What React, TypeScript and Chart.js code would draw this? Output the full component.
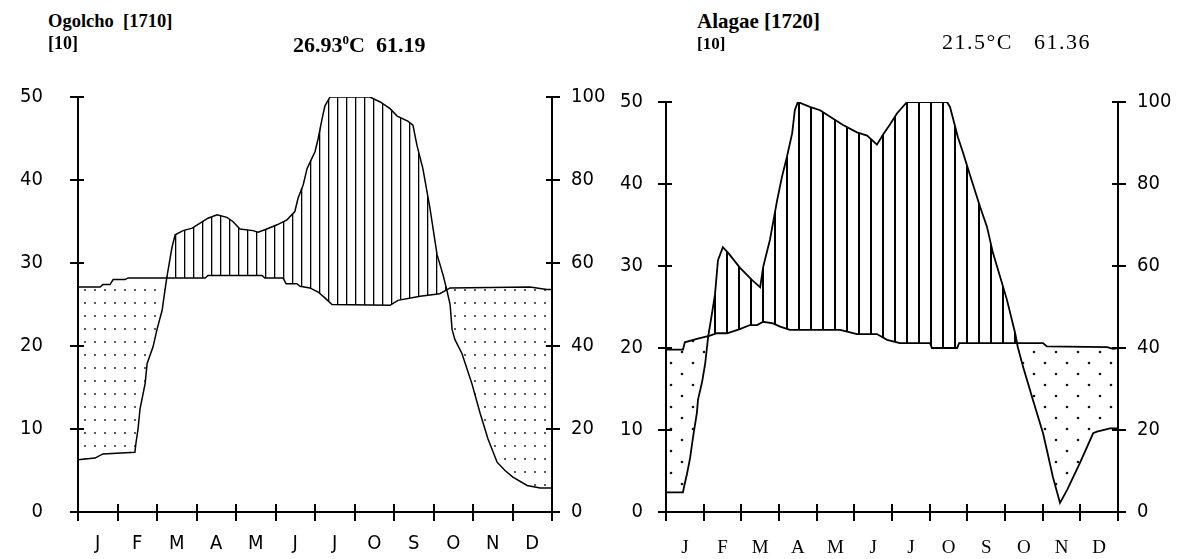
import React, { useEffect, useRef } from "react";
import { Chart, registerables } from "chart.js";

Chart.register(...registerables);

// ---------- data ----------
const MONTHS = ["J", "F", "M", "A", "M", "J", "J", "O", "S", "O", "N", "D"];

// Ogolcho [1710] : temperature (°C) and precipitation (mm), x in months from 1 Jan
const OGOLCHO_TEMP_MONTH = [0, 0.56, 0.63, 0.81, 0.89, 1.19, 1.27, 3.22, 3.29, 4.66, 4.73, 5.19, 5.27, 5.54, 5.62, 5.87, 6.08, 6.25, 6.43, 7.9, 8.1, 8.66, 9.16, 9.42, 11.44, 11.87, 12];
const OGOLCHO_TEMP_C = [27.1, 27.1, 27.4, 27.4, 28.0, 28.0, 28.2, 28.2, 28.5, 28.5, 28.2, 28.2, 27.5, 27.5, 27.2, 27.0, 26.5, 25.8, 25.0, 24.9, 25.5, 26.0, 26.3, 27.0, 27.1, 26.8, 26.8];
const OGOLCHO_PREC_MONTH = [0, 0.43, 0.63, 1.44, 1.47, 1.52, 1.57, 1.7, 1.75, 1.9, 2.0, 2.13, 2.18, 2.25, 2.38, 2.46, 2.66, 2.89, 3.09, 3.29, 3.52, 3.77, 3.92, 4.1, 4.43, 4.56, 4.78, 5.04, 5.29, 5.49, 5.57, 5.7, 5.8, 5.92, 6.0, 6.08, 6.18, 6.25, 6.38, 6.58, 7.39, 7.65, 7.9, 8.08, 8.35, 8.48, 8.58, 8.73, 8.91, 9.09, 9.24, 9.34, 9.42, 9.47, 9.54, 9.72, 9.97, 10.18, 10.38, 10.61, 10.81, 11.01, 11.37, 11.7, 12];
const OGOLCHO_PREC_MM = [12.6, 13, 14, 14.4, 16.8, 20, 24.8, 31, 35.8, 39.8, 44, 48.6, 52, 56.6, 63.8, 66.8, 67.8, 68.4, 69.6, 70.8, 71.6, 71, 70, 68.2, 67.8, 67.4, 68.2, 69.2, 70.4, 72.4, 75.6, 78.8, 82.8, 85.2, 86.8, 90, 94.8, 97.8, 100, 100, 100, 98.8, 97.2, 95.4, 94.2, 93.2, 88.4, 82.8, 73.2, 62, 57.2, 53.4, 50, 44, 41.6, 38.2, 31, 23.8, 17.6, 12, 10, 8.4, 6.4, 5.8, 5.8];

// Alagae [1720]
const ALAGAE_TEMP_MONTH = [0, 0.45, 0.5, 0.82, 1.17, 1.35, 1.62, 1.96, 2.23, 2.42, 2.58, 2.84, 3.03, 3.29, 4.62, 4.81, 5.07, 5.6, 5.87, 6.21, 7.01, 7.06, 7.73, 7.78, 10.01, 10.11, 11.71, 11.87, 12];
const ALAGAE_TEMP_C = [19.8, 19.8, 20.7, 21.1, 21.5, 21.8, 21.8, 22.3, 22.8, 22.8, 23.2, 23.0, 22.6, 22.2, 22.2, 22.0, 21.7, 21.7, 21.0, 20.6, 20.6, 20.0, 20.0, 20.6, 20.6, 20.2, 20.1, 19.9, 20.0];
const ALAGAE_PREC_MONTH = [0, 0.45, 0.5, 0.56, 0.64, 0.72, 0.82, 0.85, 0.96, 1.04, 1.12, 1.22, 1.3, 1.38, 1.51, 1.65, 1.96, 2.28, 2.5, 2.58, 2.76, 2.95, 3.08, 3.21, 3.35, 3.42, 3.5, 3.82, 4.09, 4.43, 4.7, 5.07, 5.34, 5.6, 5.76, 5.95, 6.13, 6.4, 6.53, 7.46, 7.54, 7.75, 7.88, 8.07, 8.34, 8.52, 8.68, 8.87, 9.05, 9.27, 9.34, 9.48, 9.74, 10.01, 10.11, 10.27, 10.46, 10.65, 10.99, 11.34, 11.44, 11.79, 12];
const ALAGAE_PREC_MM = [4.8, 4.8, 7, 9.4, 13.2, 18.4, 24.2, 27.4, 31.8, 36.2, 42.8, 48.4, 53, 61.4, 64.6, 63.2, 59.6, 56.6, 54.8, 59.8, 66.4, 76, 81.8, 86.6, 92.4, 98, 100, 98.8, 98, 96, 94.4, 92.6, 91.8, 89.6, 92, 94.6, 97.2, 100, 100, 100, 98.8, 91.4, 87.8, 82.2, 74.4, 69.6, 63.2, 57.4, 51.8, 43.6, 40.2, 35.4, 27.4, 19.2, 15.2, 8.6, 2.2, 5.4, 12, 19.2, 19.6, 20.4, 20.4];

const TEMP_TICKS_MAX = 50;
const TEMP_TICK_STEP = 10;
const PREC_TICKS_MAX = 100;
const PREC_TICK_STEP = 20;

// ---------- helpers ----------
function zip(xs: number[], ys: number[]) {
  return xs.map((x, i) => ({ x, y: ys[i] }));
}

function makeHatch(w: number, lw: number): CanvasPattern {
  const c = document.createElement("canvas");
  c.width = w;
  c.height = 8;
  const g = c.getContext("2d")!;
  g.fillStyle = "#000";
  g.fillRect(Math.floor(w / 2), 0, lw, 8);
  return g.createPattern(c, "repeat")!;
}

function makeDots(w: number, h: number, pts: number[][], r: number): CanvasPattern {
  const c = document.createElement("canvas");
  c.width = w;
  c.height = h;
  const g = c.getContext("2d")!;
  g.fillStyle = "#111";
  pts.forEach(([x, y]) => {
    g.beginPath();
    g.arc(x, y, r, 0, Math.PI * 2);
    g.fill();
  });
  return g.createPattern(c, "repeat")!;
}

const crossTicks = {
  id: "crossTicks",
  afterDatasetsDraw(chart: any, _args: any, opts: any) {
    const { ctx, chartArea } = chart;
    ctx.save();
    ctx.strokeStyle = "#000";
    ctx.lineWidth = opts.width || 2;
    const xs = chart.scales.x;
    xs.ticks.forEach((t: any) => {
      const px = Math.round(xs.getPixelForValue(t.value));
      ctx.beginPath();
      ctx.moveTo(px, chartArea.bottom - opts.xUp);
      ctx.lineTo(px, chartArea.bottom + opts.xDown);
      ctx.stroke();
    });
    const ys = chart.scales.y;
    ys.ticks.forEach((t: any) => {
      const py = Math.round(ys.getPixelForValue(t.value));
      ctx.beginPath();
      ctx.moveTo(chartArea.left - opts.yOut, py);
      ctx.lineTo(chartArea.left + opts.yIn, py);
      ctx.stroke();
    });
    const y2 = chart.scales.y2;
    y2.ticks.forEach((t: any) => {
      const py = Math.round(y2.getPixelForValue(t.value));
      ctx.beginPath();
      ctx.moveTo(chartArea.right - opts.yIn, py);
      ctx.lineTo(chartArea.right + opts.yOut, py);
      ctx.stroke();
    });
    ctx.restore();
  },
};

const SANS = "'DejaVu Sans Condensed', 'Liberation Sans Narrow', 'DejaVu Sans', sans-serif";
const SERIF = "'Liberation Serif', 'DejaVu Serif', serif";

type PanelProps = {
  left: number;
  top: number;
  width: number;
  height: number;
  padTop: number;
  yW: number;
  y2W: number;
  xH: number;
  x2H: number;
  yPad: number;
  y2Pad: number;
  x2Pad: number;
  tickFont: any;
  monthFont: any;
  tempX: number[];
  tempY: number[];
  precX: number[];
  precY: number[];
  hatchW: number;
  hatchLW: number;
  dotW: number;
  dotH: number;
  dotPts: number[][];
  dotR: number;
  lineW: number;
};

function Panel(p: PanelProps) {
  const ref = useRef<HTMLCanvasElement>(null);
  useEffect(() => {
    const hatch = makeHatch(p.hatchW, p.hatchLW);
    const dots = makeDots(p.dotW, p.dotH, p.dotPts, p.dotR);
    const chart = new Chart(ref.current!, {
      type: "line",
      data: {
        datasets: [
          {
            label: "Temperature",
            data: zip(p.tempX, p.tempY),
            xAxisID: "x",
            yAxisID: "y",
            borderColor: "#000",
            borderWidth: p.lineW,
            pointRadius: 0,
            tension: 0,
            fill: false,
          },
          {
            label: "Precipitation",
            data: zip(p.precX, p.precY),
            xAxisID: "x",
            yAxisID: "y2",
            borderColor: "#000",
            borderWidth: p.lineW,
            pointRadius: 0,
            tension: 0,
            fill: { target: 0, above: hatch, below: dots } as any,
          },
        ],
      },
      options: {
        responsive: false,
        animation: false,
        events: [],
        layout: { padding: { top: p.padTop, left: 0, right: 0, bottom: 0 } },
        plugins: {
          legend: { display: false },
          tooltip: { enabled: false },
          filler: { drawTime: "beforeDatasetsDraw" },
          crossTicks: { xUp: 8, xDown: 9, yIn: 6, yOut: 8, width: 2 },
        } as any,
        scales: {
          x: {
            type: "linear",
            position: "bottom",
            min: 0,
            max: 12,
            ticks: { display: false, stepSize: 1 },
            grid: { display: false, drawTicks: false },
            border: { display: true, color: "#000", width: 2 },
            afterFit: (s: any) => {
              s.height = p.xH;
            },
          },
          x2: {
            type: "linear",
            position: "bottom",
            min: 0,
            max: 12,
            afterBuildTicks: (s: any) => {
              s.ticks = MONTHS.map((_, i) => ({ value: i + 0.5 }));
            },
            ticks: {
              callback: (_v: any, i: number) => MONTHS[i],
              autoSkip: false,
              maxRotation: 0,
              padding: p.x2Pad,
              color: "#000",
              font: p.monthFont,
            },
            grid: { display: false, drawTicks: false },
            border: { display: false },
            afterFit: (s: any) => {
              s.height = p.x2H;
            },
          },
          y: {
            type: "linear",
            position: "left",
            min: 0,
            max: TEMP_TICKS_MAX,
            ticks: { stepSize: TEMP_TICK_STEP, padding: p.yPad, color: "#000", font: p.tickFont },
            grid: { display: false, drawTicks: false },
            border: { display: true, color: "#000", width: 2 },
            afterFit: (s: any) => {
              s.width = p.yW;
            },
          },
          y2: {
            type: "linear",
            position: "right",
            min: 0,
            max: PREC_TICKS_MAX,
            ticks: { stepSize: PREC_TICK_STEP, padding: p.y2Pad, color: "#000", font: p.tickFont },
            grid: { display: false, drawTicks: false },
            border: { display: true, color: "#000", width: 2 },
            afterFit: (s: any) => {
              s.width = p.y2W;
            },
          },
        } as any,
      },
      plugins: [crossTicks as any],
    });
    return () => chart.destroy();
  }, []);
  return (
    <canvas
      ref={ref}
      width={p.width}
      height={p.height}
      style={{ position: "absolute", left: p.left, top: p.top, width: p.width, height: p.height, display: "block" }}
    />
  );
}

const titleStyle: React.CSSProperties = {
  position: "absolute",
  fontFamily: SERIF,
  fontWeight: "bold",
  fontSize: 18,
  color: "#000",
  whiteSpace: "pre",
  lineHeight: "20px",
};

export default function App() {
  return (
    <div style={{ position: "absolute", left: 0, top: 0, width: 1189, height: 559, background: "#fff", overflow: "hidden" }}>
      <Panel
        left={0}
        top={50}
        width={640}
        height={509}
        padTop={46}
        yW={78}
        y2W={88}
        xH={10}
        x2H={32}
        yPad={35}
        y2Pad={19}
        x2Pad={10}
        tickFont={{ family: SANS, size: 20 }}
        monthFont={{ family: SANS, size: 20 }}
        tempX={OGOLCHO_TEMP_MONTH}
        tempY={OGOLCHO_TEMP_C}
        precX={OGOLCHO_PREC_MONTH}
        precY={OGOLCHO_PREC_MM}
        hatchW={9}
        hatchLW={1.3}
        dotW={10}
        dotH={13}
        dotPts={[[5, 6]]}
        dotR={0.9}
        lineW={1.5}
      />
      <Panel
        left={600}
        top={50}
        width={589}
        height={509}
        padTop={52}
        yW={66}
        y2W={71}
        xH={10}
        x2H={37}
        yPad={23}
        y2Pad={19}
        x2Pad={15}
        tickFont={{ family: SANS, size: 20 }}
        monthFont={{ family: SERIF, size: 19 }}
        tempX={ALAGAE_TEMP_MONTH}
        tempY={ALAGAE_TEMP_C}
        precX={ALAGAE_PREC_MONTH}
        precY={ALAGAE_PREC_MM}
        hatchW={12}
        hatchLW={2}
        dotW={22}
        dotH={22}
        dotPts={[[5, 5], [16, 16]]}
        dotR={1.3}
        lineW={1.8}
      />
      <div style={{ ...titleStyle, left: 48, top: 11, fontSize: 18.5 }}>{"Ogolcho  [1710]"}</div>
      <div style={{ ...titleStyle, left: 48, top: 33 }}>{"[10]"}</div>
      <div style={{ ...titleStyle, left: 293, top: 30, fontSize: 22 }}>
        {"26.93"}
        <sup style={{ fontSize: 13 }}>0</sup>
        {"C  61.19"}
      </div>
      <div style={{ ...titleStyle, left: 697, top: 11, fontSize: 21 }}>{"Alagae [1720]"}</div>
      <div style={{ ...titleStyle, left: 697, top: 34, fontSize: 17 }}>{"[10]"}</div>
      <div style={{ ...titleStyle, left: 942, top: 32, fontSize: 22, fontWeight: "normal", letterSpacing: 1.5 }}>{"21.5°C   61.36"}</div>
    </div>
  );
}
